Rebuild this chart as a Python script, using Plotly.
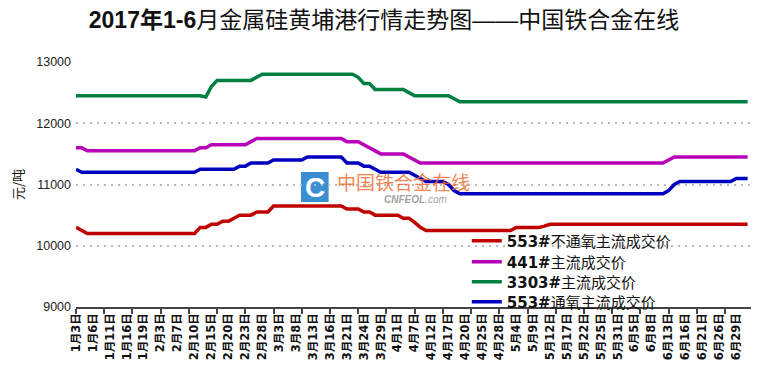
import plotly.graph_objects as go

tick_labels = ["1月3日", "1月6日", "1月11日", "1月16日", "1月19日", "2月3日", "2月7日", "2月10日",
               "2月15日", "2月20日", "2月23日", "2月28日", "3月3日", "3月8日", "3月13日", "3月16日",
               "3月21日", "3月24日", "3月29日", "4月1日", "4月7日", "4月12日", "4月17日", "4月20日",
               "4月25日", "4月28日", "5月4日", "5月9日", "5月12日", "5月17日", "5月22日", "5月25日",
               "5月31日", "6月5日", "6月8日", "6月13日", "6月16日", "6月21日", "6月26日", "6月29日"]

series_names = ["553#不通氧主流成交价", "441#主流成交价", "3303#主流成交价", "553#通氧主流成交价"]

red_553 = [10300, 10250, 10200, 10200, 10200, 10200, 10200, 10200, 10200, 10200,
           10200, 10200, 10200, 10200, 10200, 10200, 10200, 10200, 10200, 10200,
           10200, 10200, 10300, 10300, 10350, 10350, 10400, 10400, 10450, 10500,
           10500, 10500, 10550, 10550, 10550, 10650, 10650, 10650, 10650, 10650,
           10650, 10650, 10650, 10650, 10650, 10650, 10650, 10650, 10600, 10600,
           10600, 10550, 10550, 10500, 10500, 10500, 10500, 10500, 10450, 10450,
           10380, 10300, 10250, 10250, 10250, 10250, 10250, 10250, 10250, 10250,
           10250, 10250, 10250, 10250, 10250, 10250, 10250, 10250, 10300, 10300,
           10300, 10300, 10300, 10320, 10350, 10350, 10350, 10350, 10350, 10350,
           10350, 10350, 10350, 10350, 10350, 10350, 10350, 10350, 10350, 10350,
           10350, 10350, 10350, 10350, 10350, 10350, 10350, 10350, 10350, 10350,
           10350, 10350, 10350, 10350, 10350, 10350, 10350, 10350, 10350, 10350]

magenta_441 = [11600, 11600, 11550, 11550, 11550, 11550, 11550, 11550, 11550, 11550,
               11550, 11550, 11550, 11550, 11550, 11550, 11550, 11550, 11550, 11550,
               11550, 11550, 11600, 11600, 11650, 11650, 11650, 11650, 11650, 11650,
               11650, 11700, 11750, 11750, 11750, 11750, 11750, 11750, 11750, 11750,
               11750, 11750, 11750, 11750, 11750, 11750, 11750, 11750, 11700, 11700,
               11700, 11650, 11600, 11550, 11500, 11500, 11500, 11500, 11500, 11450,
               11400, 11350, 11350, 11350, 11350, 11350, 11350, 11350, 11350, 11350,
               11350, 11350, 11350, 11350, 11350, 11350, 11350, 11350, 11350, 11350,
               11350, 11350, 11350, 11350, 11350, 11350, 11350, 11350, 11350, 11350,
               11350, 11350, 11350, 11350, 11350, 11350, 11350, 11350, 11350, 11350,
               11350, 11350, 11350, 11350, 11350, 11400, 11450, 11450, 11450, 11450,
               11450, 11450, 11450, 11450, 11450, 11450, 11450, 11450, 11450, 11450]

green_3303 = [12450, 12450, 12450, 12450, 12450, 12450, 12450, 12450, 12450, 12450,
              12450, 12450, 12450, 12450, 12450, 12450, 12450, 12450, 12450, 12450,
              12450, 12450, 12450, 12430, 12600, 12700, 12700, 12700, 12700, 12700,
              12700, 12700, 12750, 12800, 12800, 12800, 12800, 12800, 12800, 12800,
              12800, 12800, 12800, 12800, 12800, 12800, 12800, 12800, 12800, 12800,
              12750, 12650, 12650, 12550, 12550, 12550, 12550, 12550, 12550, 12500,
              12450, 12450, 12450, 12450, 12450, 12450, 12450, 12400, 12350, 12350,
              12350, 12350, 12350, 12350, 12350, 12350, 12350, 12350, 12350, 12350,
              12350, 12350, 12350, 12350, 12350, 12350, 12350, 12350, 12350, 12350,
              12350, 12350, 12350, 12350, 12350, 12350, 12350, 12350, 12350, 12350,
              12350, 12350, 12350, 12350, 12350, 12350, 12350, 12350, 12350, 12350,
              12350, 12350, 12350, 12350, 12350, 12350, 12350, 12350, 12350, 12350]

blue_553o = [11250, 11200, 11200, 11200, 11200, 11200, 11200, 11200, 11200, 11200,
             11200, 11200, 11200, 11200, 11200, 11200, 11200, 11200, 11200, 11200,
             11200, 11200, 11250, 11250, 11250, 11250, 11250, 11250, 11250, 11300,
             11300, 11350, 11350, 11350, 11350, 11400, 11400, 11400, 11400, 11400,
             11400, 11450, 11450, 11450, 11450, 11450, 11450, 11450, 11350, 11350,
             11350, 11300, 11300, 11250, 11200, 11200, 11200, 11200, 11200, 11200,
             11150, 11100, 11050, 11050, 11050, 11050, 11000, 10900, 10850, 10850,
             10850, 10850, 10850, 10850, 10850, 10850, 10850, 10850, 10850, 10850,
             10850, 10850, 10850, 10850, 10850, 10850, 10850, 10850, 10850, 10850,
             10850, 10850, 10850, 10850, 10850, 10850, 10850, 10850, 10850, 10850,
             10850, 10850, 10850, 10850, 10850, 10900, 11000, 11050, 11050, 11050,
             11050, 11050, 11050, 11050, 11050, 11050, 11050, 11100, 11100, 11100]

colors = ["#C00000", "#B800B8", "#008040", "#0000BF"]
all_series = [red_553, magenta_441, green_3303, blue_553o]

x = list(range(len(red_553)))

FONT = "DejaVu Sans, Noto Sans CJK SC, sans-serif"

# page body has an 8px margin: figure origin sits at window (8, 8)
OFF = 8
PL, PR, PT, PB = 67 - OFF, 751 - OFF, 62 - OFF, 307 - OFF   # plot area in figure px
PW, PH = PR - PL, PB - PT


def px(xw):
    return (xw - OFF - PL) / PW


def py(yw):
    return (PB - (yw - OFF)) / PH


legend_ids = ["legend", "legend2", "legend3", "legend4"]
legend_centers = [241, 262, 282, 302]   # window px of each legend row

fig = go.Figure()
for name, vals, col, lid in zip(series_names, all_series, colors, legend_ids):
    prefix = name.split("#")[0] + "#"
    rest = name[len(prefix):]
    fig.add_trace(go.Scatter(
        x=x, y=vals, mode="lines", name="<b>" + prefix + "</b>" + rest,
        line=dict(color=col, width=3.5), legend=lid,
    ))

legend_layout = {}
for lid, yc in zip(legend_ids, legend_centers):
    legend_layout[lid] = dict(x=px(463), y=py(yc), xanchor="left", yanchor="middle",
                              bgcolor="rgba(0,0,0,0)", borderwidth=0,
                              font=dict(family=FONT, size=15, color="#111"))

# watermark
fig.add_shape(type="rect", xref="paper", yref="paper",
              x0=px(295), x1=px(323), y0=py(202), y1=py(172),
              fillcolor="#3A8ED2", line=dict(width=0), layer="below")
fig.add_annotation(xref="paper", yref="paper", x=px(309), y=py(187),
                   text="<b>C</b>", showarrow=False,
                   font=dict(family="Liberation Sans, Arial", size=28, color="white"))
fig.add_annotation(xref="paper", yref="paper", x=px(329), y=py(181),
                   xanchor="left", text="中国铁合金在线", showarrow=False,
                   font=dict(family="Noto Sans CJK SC", size=19, color="rgba(240,110,50,0.85)"))
fig.add_annotation(xref="paper", yref="paper", x=px(377), y=py(199),
                   xanchor="left", text="<b><i>CNFEOL</i></b><i>.com</i>", showarrow=False,
                   font=dict(family="Liberation Sans, Arial", size=10, color="rgba(150,150,150,0.9)"))

fig.update_layout(
    width=760 - OFF, height=374 - OFF,
    margin=dict(l=PL, r=(760 - OFF) - PR, t=PT, b=(374 - OFF) - PB),
    paper_bgcolor="white", plot_bgcolor="white",
    title=dict(text="<b>2017年1-6</b>月金属硅黄埔港行情走势图——中国铁合金在线",
               x=(384 - OFF) / (760 - OFF), xanchor="center",
               y=1 - (20 - OFF) / (374 - OFF), yanchor="middle",
               font=dict(family="Liberation Sans, Noto Sans CJK SC", size=23, color="#111")),
    showlegend=True,
    xaxis=dict(range=[0, 119.6], tickmode="array",
               tickvals=[3 * i for i in range(len(tick_labels))],
               ticktext=["<b>" + t + "</b>" for t in tick_labels],
               tickangle=-90, ticks="", showgrid=False, zeroline=False,
               showline=True, linecolor="#444", linewidth=1.5,
               tickfont=dict(family=FONT, size=11.5, color="#111"),
               minor=dict(tickmode="linear", tick0=0, dtick=5, ticks="outside",
                          ticklen=5, tickcolor="#444", tickwidth=1.5, showgrid=False)),
    yaxis=dict(range=[9000, 13000], tickvals=[9000, 10000, 11000, 12000, 13000],
               ticktext=["9000", "10000", "11000", "12000", "13000"],
               showgrid=True, gridcolor="#BBBBBB", gridwidth=1.5, griddash="2px,5px",
               zeroline=False, showline=False, ticks="", ticklabelstandoff=4,
               tickfont=dict(family="Liberation Sans, Arial", size=12.5, color="#222"),
               title=dict(text="元/吨", standoff=10,
                          font=dict(family="Noto Sans CJK SC", size=13, color="#111"))),
    **legend_layout,
)

fig.write_html("out.html")
